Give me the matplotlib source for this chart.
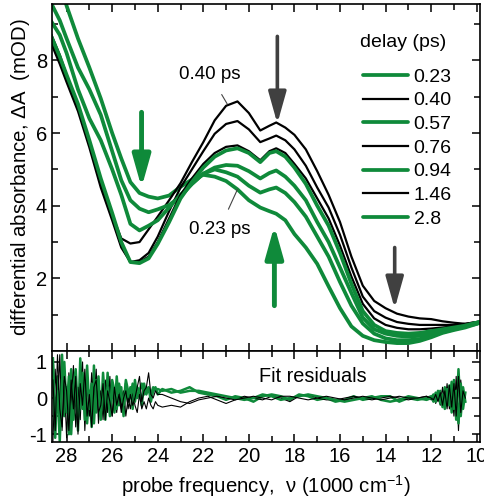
import numpy as np
import matplotlib
matplotlib.use('Agg')
import matplotlib.pyplot as plt

plt.rcParams['font.family'] = ['Liberation Sans', 'DejaVu Sans']
plt.rcParams['mathtext.fontset'] = 'custom'
plt.rcParams['mathtext.rm'] = 'Liberation Sans'
plt.rcParams['axes.unicode_minus'] = False

GREEN = '#0f8a3a'
GRAY = '#404040'

# probe frequency grid (1000 cm-1) for the spectra
freq = [28.7, 28.3, 28.0, 27.5, 27.0, 26.5, 26.0, 25.6, 25.2, 24.8, 24.4, 24.0,
        23.5, 23.0, 22.5, 22.0, 21.5, 21.0, 20.5, 20.0, 19.5, 19.1, 18.8, 18.4,
        18.0, 17.5, 17.0, 16.5, 16.0, 15.5, 15.0, 14.5, 14.0, 13.5, 13.0, 12.5,
        12.0, 11.5, 11.0, 10.5, 10.0, 9.8]

delays = ['0.23', '0.40', '0.57', '0.76', '0.94', '1.46', '2.8']

# transient spectra, mOD
s_023 = [10.8, 10.2, 9.5, 8.6, 7.8, 6.95, 6.0, 5.3, 4.65, 4.35, 4.25, 4.2,
         4.28, 4.52, 4.72, 4.85, 4.8, 4.68, 4.45, 4.15, 3.95, 3.85, 3.78, 3.6,
         3.22, 2.85, 2.4, 1.78, 1.18, 0.68, 0.42, 0.3, 0.25, 0.22, 0.22, 0.28,
         0.38, 0.5, 0.58, 0.65, 0.75, 0.8]
s_040 = [8.75, 8.15, 7.6, 6.75, 5.75, 4.7, 3.75, 3.1, 2.96, 3.0, 3.35, 3.7,
         4.15, 4.62, 5.2, 5.75, 6.35, 6.75, 6.87, 6.55, 6.07, 6.2, 6.29, 6.15,
         5.95, 5.55, 4.95, 4.3, 3.55, 2.6, 1.8, 1.38, 1.18, 1.03, 0.95, 0.9,
         0.88, 0.82, 0.78, 0.75, 0.8, 0.82]
s_057 = [9.6, 9.1, 8.6, 7.8, 7.2, 6.5, 5.5, 4.7, 4.15, 3.92, 3.82, 3.9,
         4.02, 4.25, 4.6, 4.88, 5.0, 4.92, 4.8, 4.55, 4.36, 4.45, 4.5, 4.35,
         4.1, 3.7, 3.15, 2.6, 1.9, 1.25, 0.76, 0.48, 0.35, 0.3, 0.3, 0.33,
         0.42, 0.52, 0.6, 0.68, 0.75, 0.8]
s_076 = [8.5, 7.9, 7.4, 6.6, 5.6, 4.5, 3.6, 2.85, 2.45, 2.5, 2.7, 3.15,
         3.85, 4.5, 5.0, 5.5, 5.98, 6.25, 6.33, 6.1, 5.75, 5.85, 5.93, 5.8,
         5.55, 5.1, 4.5, 3.95, 3.2, 2.3, 1.5, 1.1, 0.92, 0.8, 0.75, 0.72,
         0.72, 0.72, 0.72, 0.75, 0.8, 0.82]
s_094 = [9.1, 8.7, 8.2, 7.2, 6.4, 5.8, 5.0, 4.3, 3.5, 3.32, 3.45, 3.6,
         3.95, 4.3, 4.6, 4.88, 5.05, 5.12, 5.1, 4.95, 4.75, 4.9, 4.97, 4.8,
         4.55, 4.15, 3.55, 3.0, 2.3, 1.6, 0.92, 0.6, 0.48, 0.42, 0.4, 0.42,
         0.48, 0.55, 0.62, 0.7, 0.78, 0.8]
s_146 = [8.6, 8.0, 7.5, 6.7, 5.7, 4.6, 3.7, 2.9, 2.45, 2.45, 2.6, 3.0,
         3.65, 4.3, 4.75, 5.15, 5.45, 5.62, 5.66, 5.5, 5.25, 5.5, 5.58, 5.45,
         5.15, 4.75, 4.2, 3.65, 2.9, 2.05, 1.3, 0.9, 0.72, 0.64, 0.6, 0.6,
         0.62, 0.65, 0.68, 0.72, 0.78, 0.8]
s_280 = [8.7, 8.1, 7.6, 6.8, 5.8, 4.75, 3.8, 3.0, 2.45, 2.42, 2.55, 2.95,
         3.55, 4.2, 4.65, 5.05, 5.35, 5.52, 5.58, 5.45, 5.2, 5.45, 5.5, 5.35,
         5.05, 4.6, 4.0, 3.45, 2.7, 1.85, 1.1, 0.72, 0.55, 0.5, 0.48, 0.5,
         0.55, 0.6, 0.65, 0.7, 0.78, 0.82]

spectra = [s_023, s_040, s_057, s_076, s_094, s_146, s_280]

# residual grid: fine where noisy, coarse in the middle
res_freq = np.concatenate([np.round(np.arange(28.6, 23.95, -0.1), 2),
                           np.round(np.arange(23.8, 12.1, -0.4), 2),
                           np.round(np.arange(12.0, 10.45, -0.1), 2)])

r_green1 = [0.9, -1.1, 0.6, -0.8, 1.2, -0.5, 0.3, -1.0, 0.8, -0.6,
            0.4, -0.9, 1.1, -0.3, 0.5, -0.7, 0.2, -0.8, 0.9, -0.4,
            0.6, -0.5, 0.1, -0.6, 0.7, -0.3, 0.4, -0.4, 0.6, -0.2,
            0.3, -0.5, 0.4, -0.1, 0.3, -0.3, 0.5, 0.0, 0.2, -0.2,
            0.4, 0.1, 0.3, -0.1, 0.2, 0.3, 0.1,
            0.25, 0.15, 0.2, 0.3, 0.15, 0.1, 0.05, -0.05, 0.05, 0.0,
            -0.1, 0.05, 0.1, 0.05, -0.05, 0.1, 0.05, -0.05, 0.0, -0.1,
            -0.05, 0.05, -0.05, 0.0, 0.05, 0.05, -0.1, 0.0, -0.05, 0.0,
            0.05, -0.1, 0.15, -0.05, 0.2, -0.25, 0.3, -0.2, 0.35, -0.4,
            0.5, -0.6, 0.8, -0.5, 0.3, -0.1]
r_black1 = [-1.2, 0.8, -0.4, 1.2, -0.9, 0.5, -1.1, 0.7, -0.2, 0.9,
            -0.8, 0.3, -0.6, 1.0, -0.9, 0.4, -0.5, 0.7, -0.3, 0.8,
            -0.7, 0.2, -0.6, 0.5, -0.4, 0.6, -0.5, 0.1, -0.4, 0.3,
            -0.3, 0.2, -0.5, 0.0, -0.3, 0.2, -0.2, -0.4, 0.1, -0.3,
            -0.1, -0.3, 0.0, -0.2, -0.3, -0.1, -0.2,
            -0.25, -0.2, -0.25, -0.1, 0.0, 0.05, -0.05, -0.15, -0.05, 0.05,
            0.0, -0.05, 0.05, 0.0, -0.1, 0.05, 0.1, 0.0, -0.05, -0.05,
            0.0, 0.05, 0.0, -0.05, 0.0, 0.05, 0.0, -0.05, 0.0, 0.05,
            -0.05, 0.1, -0.15, 0.1, -0.2, 0.3, -0.2, 0.4, -0.3, 0.3,
            -0.5, 0.6, -0.9, 0.5, -0.2, 0.1]
r_green2 = [1.1, -0.7, 0.2, -1.2, 0.5, 1.0, -0.4, 0.6, -1.0, 0.3,
            0.8, -0.5, -0.2, 0.7, -0.6, 0.9, -0.3, 0.4, -0.7, 0.5,
            0.2, -0.6, 0.7, -0.2, 0.3, -0.5, 0.5, 0.2, -0.3, 0.4,
            0.1, -0.2, 0.5, 0.2, 0.0, 0.4, -0.1, 0.3, 0.2, 0.4,
            0.1, 0.3, 0.2, 0.1, 0.3, 0.2, 0.25,
            0.2, 0.25, 0.15, 0.2, 0.2, 0.15, 0.1, 0.05, 0.0, -0.05,
            0.0, 0.1, 0.05, -0.05, 0.0, 0.05, 0.1, 0.05, 0.0, -0.05,
            -0.1, -0.05, 0.0, 0.05, -0.05, -0.1, -0.05, 0.05, 0.0, -0.05,
            0.0, 0.1, -0.1, 0.2, -0.15, 0.1, -0.3, 0.25, -0.2, 0.45,
            -0.3, 0.2, -0.7, 0.4, -0.3, 0.15]
r_black2 = [0.5, -0.9, 1.2, -0.3, -0.8, 0.6, 0.2, -0.9, 0.5, -0.3,
            0.6, -1.0, 0.4, -0.2, 0.8, -0.5, 0.1, -0.8, 0.3, 0.5,
            -0.4, -0.2, 0.4, -0.6, 0.2, -0.1, -0.5, 0.3, -0.2, 0.1,
            -0.4, 0.0, 0.2, -0.3, 0.1, -0.2, 0.0, 0.3, 0.6, -0.1,
            0.2, 0.3, 0.7, 0.1, 0.0, 0.2, 0.1,
            0.1, 0.0, -0.1, -0.15, -0.05, 0.0, 0.05, 0.0, -0.05, 0.0,
            0.05, 0.0, -0.05, 0.05, 0.05, 0.0, -0.05, 0.0, 0.05, 0.0,
            -0.05, 0.0, 0.05, 0.0, -0.05, 0.0, 0.05, 0.0, 0.0, 0.05,
            0.0, -0.05, 0.1, -0.1, 0.15, -0.2, 0.2, -0.3, 0.35, -0.25,
            0.4, -0.5, 0.6, -0.4, 0.2, 0.0]

fig = plt.figure(figsize=(4.84, 5.03), dpi=100)
ax = fig.add_axes([0.107, 0.302, 0.885, 0.690])
axr = fig.add_axes([0.107, 0.121, 0.885, 0.181], sharex=ax)

for i, (lab, s) in enumerate(zip(delays, spectra)):
    if i % 2 == 0:
        ax.plot(freq, s, color=GREEN, lw=2.7, label=lab, solid_capstyle='round')
    else:
        ax.plot(freq, s, color='black', lw=1.6, label=lab)

ax.set_xlim(28.65, 9.85)
ax.set_ylim(0, 9.55)
ax.set_yticks([2, 4, 6, 8])
ax.set_yticks([1, 3, 5, 7, 9], minor=True)
ax.set_xticks(np.arange(28, 9, -2))
ax.set_xticks(np.arange(27, 9, -2), minor=True)
ax.tick_params(which='both', direction='in', top=True, right=True,
               labelbottom=False, labelsize=14.5, width=1.1)
ax.tick_params(which='major', length=6)
ax.tick_params(which='minor', length=4)
ax.set_ylabel('differential absorbance, $\\Delta$A  (mOD)', fontsize=14.7, labelpad=3)

ax.text(0.72, 0.890, 'delay (ps)', transform=ax.transAxes, fontsize=14,
        ha='left', va='center')
ax.legend(loc='upper left', bbox_to_anchor=(0.727, 0.815),
          frameon=False, fontsize=14, handlelength=2.3,
          handletextpad=0.3, labelspacing=0.31, borderpad=0, borderaxespad=0)

# annotations and arrows
ax.annotate('0.40 ps', xy=(20.95, 6.8), xytext=(21.7, 7.6), fontsize=13.5,
            ha='center', va='center',
            arrowprops=dict(arrowstyle='-', color='#444444', lw=0.8, shrinkA=7, shrinkB=0))
ax.annotate('0.23 ps', xy=(20.5, 4.45), xytext=(21.3, 3.35), fontsize=13.5,
            ha='center', va='center',
            arrowprops=dict(arrowstyle='-', color='#444444', lw=0.8, shrinkA=7, shrinkB=0))

def arrow(x, y0, y1, color, lw):
    ax.annotate('', xy=(x, y1), xytext=(x, y0),
                arrowprops=dict(arrowstyle='-|>,head_width=0.45,head_length=1.6',
                                color=color, lw=lw, mutation_scale=12,
                                shrinkA=0, shrinkB=0))

arrow(24.71, 6.57, 4.5, GREEN, 3.5)
arrow(18.75, 8.66, 6.26, GRAY, 2.6)
arrow(18.88, 1.25, 3.45, GREEN, 3.5)
arrow(13.6, 2.85, 1.17, GRAY, 2.6)

for s in ax.spines.values():
    s.set_linewidth(1.2)

# residual panel
axr.plot(res_freq, r_green1, color=GREEN, lw=1.8)
axr.plot(res_freq, r_black1, color='black', lw=0.8)
axr.plot(res_freq, r_green2, color=GREEN, lw=1.8)
axr.plot(res_freq, r_black2, color='black', lw=0.8)
axr.set_ylim(-1.22, 1.3)
axr.set_yticks([-1, 0, 1])
axr.set_yticks([-0.5, 0.5], minor=True)
axr.tick_params(which='both', direction='in', top=True, right=True,
                labelsize=14.5, width=1.1)
axr.tick_params(which='major', length=6)
axr.tick_params(which='minor', length=4)
axr.text(17.2, 0.6, 'Fit residuals', fontsize=14.3, ha='center', va='center')
axr.set_xlabel('probe frequency,  \u03bd (1000 cm$^{\\mathregular{-1}}$)', fontsize=14.7, labelpad=5)
for s in axr.spines.values():
    s.set_linewidth(1.2)

fig.savefig('out.png', dpi=100, facecolor='white')
